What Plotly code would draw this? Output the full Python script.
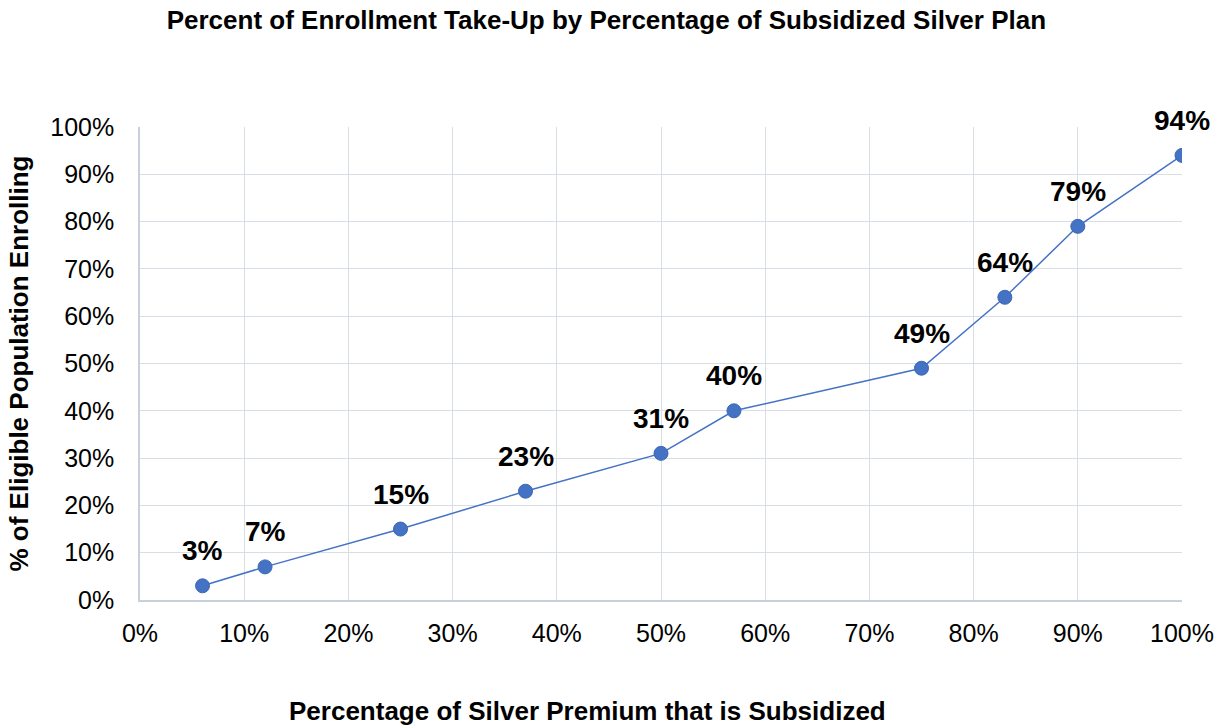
import plotly.graph_objects as go

# Share of the silver premium that is subsidized (%)
subsidy_pct = [6, 12, 25, 37, 50, 57, 75, 83, 90, 100]
# Share of eligible population enrolling (%)
enroll_pct = [3, 7, 15, 23, 31, 40, 49, 64, 79, 94]
tick_vals = list(range(0, 101, 10))
tick_text = [f"{v}%" for v in tick_vals]

FONT = "Liberation Sans, Arial, sans-serif"
BLUE = "#4472C4"
GRID = "#D9DDE6"

fig = go.Figure()
fig.add_trace(go.Scatter(
    x=subsidy_pct, y=enroll_pct,
    mode="lines+markers",
    line=dict(color=BLUE, width=1.5),
    marker=dict(color=BLUE, size=14, line=dict(color="#3E67B3", width=1)),
    hoverinfo="skip",
))

# value labels above each point
for xv, yv in zip(subsidy_pct, enroll_pct):
    fig.add_annotation(
        x=xv, y=yv, text=f"<b>{yv}%</b>", showarrow=False,
        yshift=35, font=dict(family=FONT, size=28, color="#000000"),
    )

# horizontal axis caption, placed in paper coordinates
fig.add_annotation(
    xref="paper", yref="paper", x=0.429, y=-0.234,
    xanchor="center", yanchor="middle", showarrow=False, borderpad=0,
    text="<b>Percentage of Silver Premium that is Subsidized</b>",
    font=dict(family=FONT, size=26, color="#000000"),
)

fig.update_layout(
    width=1225, height=728,
    paper_bgcolor="white", plot_bgcolor="white",
    margin=dict(l=140, r=43, t=127, b=128, autoexpand=False),
    showlegend=False,
    title=dict(
        text="<b>Percent of Enrollment Take-Up by Percentage of Subsidized Silver Plan</b>",
        x=0.495, xanchor="center", y=0.972, yanchor="middle",
        font=dict(family=FONT, size=26, color="#000000"),
    ),
    font=dict(family=FONT, size=25, color="#000000"),
)

fig.update_xaxes(
    range=[0, 100], tickvals=tick_vals, ticktext=tick_text,
    showgrid=True, gridcolor=GRID, gridwidth=1,
    showline=True, linecolor="#C9CFDC", linewidth=1.5,
    zeroline=False, ticks="outside", ticklen=10, tickcolor="rgba(0,0,0,0)",
    tickfont=dict(family=FONT, size=25, color="#000000"),
    automargin=False,
)
fig.update_yaxes(
    range=[0, 100], tickvals=tick_vals, ticktext=tick_text,
    showgrid=True, gridcolor=GRID, gridwidth=1,
    showline=True, linecolor="#C9CFDC", linewidth=1.5,
    zeroline=False, ticks="outside", ticklen=19, tickcolor="rgba(0,0,0,0)",
    tickfont=dict(family=FONT, size=25, color="#000000"),
    automargin=False,
    title=dict(text="<b>% of Eligible Population Enrolling</b>",
               font=dict(family=FONT, size=26, color="#000000"), standoff=14),
)

fig.write_html("out.html")
